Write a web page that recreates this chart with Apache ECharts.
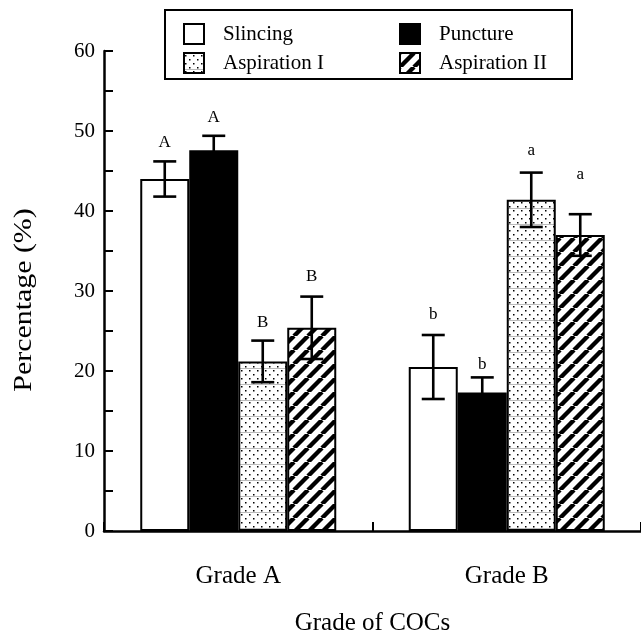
<!DOCTYPE html>
<html><head><meta charset="utf-8">
<script src="https://cdn.jsdelivr.net/npm/echarts@6/dist/echarts.min.js"></script>
<style>html,body{margin:0;padding:0;background:#fff}#c{width:641px;height:641px}</style>
</head><body><div id="c"></div>
<script>
const categories = ['Grade A', 'Grade B'];
const seriesNames = ['Slincing', 'Puncture', 'Aspiration I', 'Aspiration II'];
const slincing = [44.0, 20.5];
const puncture = [47.6, 17.3];
const aspirationI = [21.2, 41.4];
const aspirationII = [25.4, 37.0];
const slincingErr = [2.2, 4.0];
const punctureErr = [1.8, 1.9];
const aspirationIErr = [2.6, 3.4];
const aspirationIIErr = [3.9, 2.6];
const slincingLetters = ['A', 'b'];
const punctureLetters = ['A', 'b'];
const aspirationILetters = ['B', 'a'];
const aspirationIILetters = ['B', 'a'];
const slincingLetterY = [48.6, 27.0];
const punctureLetterY = [51.7, 20.8];
const aspirationILetterY = [26.0, 47.5];
const aspirationIILetterY = [31.8, 44.5];
const yTicks = [0, 10, 20, 30, 40, 50, 60];
const yTitle = 'Percentage (%)';
const xTitle = 'Grade of COCs';

const values = [slincing, puncture, aspirationI, aspirationII];
const errs = [slincingErr, punctureErr, aspirationIErr, aspirationIIErr];
const letters = [slincingLetters, punctureLetters, aspirationILetters, aspirationIILetters];
const letterY = [slincingLetterY, punctureLetterY, aspirationILetterY, aspirationIILetterY];

function dotPattern() {
  const c = document.createElement('canvas'); c.width = 8; c.height = 16;
  const g = c.getContext('2d');
  g.fillStyle = '#fff'; g.fillRect(0, 0, 8, 16);
  g.fillStyle = '#000';
  for (let r = 0; r < 4; r++) {
    const y = 2 + r * 4; const off = (r % 2) ? 4 : 0;
    g.fillRect(1 + off, y, 1.5, 1.5);
  }
  g.fillStyle = '#bbb'; g.fillRect(0, 0, 8, 1);
  return c;
}
function stripePattern() {
  const s = 14;
  const c = document.createElement('canvas'); c.width = s; c.height = s;
  const g = c.getContext('2d');
  g.fillStyle = '#fff'; g.fillRect(0, 0, s, s);
  g.strokeStyle = '#000'; g.lineWidth = 4.4;
  for (let k = -1; k <= 1; k++) {
    g.beginPath(); g.moveTo(k * s, s); g.lineTo(k * s + s, 0); g.stroke();
  }
  return c;
}
const fills = ['#fff', '#000', {image: dotPattern(), repeat: 'repeat'}, {image: stripePattern(), repeat: 'repeat'}];
const GAP = 0.27;
const font = 'Liberation Serif';

const series = seriesNames.map((n, i) => ({
  name: n, type: 'bar', data: values[i], barGap: '0%', barCategoryGap: (GAP * 100) + '%',
  itemStyle: {color: fills[i], borderColor: '#000', borderWidth: 2},
  emphasis: {disabled: true}, z: 2
}));

const errData = [];
for (let i = 0; i < 4; i++) for (let c = 0; c < categories.length; c++) {
  errData.push([c, i, values[i][c] - errs[i][c], values[i][c] + errs[i][c], letterY[i][c], letters[i][c]]);
}
series.push({
  type: 'custom', z: 5, silent: true,
  data: errData,
  renderItem: function (params, api) {
    const cat = api.value(0), si = api.value(1);
    const band = api.size([1, 0])[0];
    const bw = band * (1 - GAP) / 4;
    const cx = api.coord([cat, 0])[0] - 2 * bw + (si + 0.5) * bw;
    const yl = api.coord([cat, api.value(2)])[1];
    const yh = api.coord([cat, api.value(3)])[1];
    const yt = api.coord([cat, api.value(4)])[1];
    const cap = 11.5;
    const st = {stroke: '#000', lineWidth: 2.6};
    return {type: 'group', children: [
      {type: 'line', shape: {x1: cx, y1: yl, x2: cx, y2: yh}, style: st},
      {type: 'line', shape: {x1: cx - cap, y1: yh, x2: cx + cap, y2: yh}, style: st},
      {type: 'line', shape: {x1: cx - cap, y1: yl, x2: cx + cap, y2: yl}, style: st},
      {type: 'text', style: {x: cx, y: yt, text: errData[params.dataIndex][5], fill: '#000',
        font: '17px "' + font + '"', textAlign: 'center', textVerticalAlign: 'middle'}}
    ]};
  }
});

const legendPos = [[183, 33], [399, 33], [183, 62], [399, 62]];
const legends = seriesNames.map((n, i) => ({
  data: [n], left: legendPos[i][0], top: legendPos[i][1] - 10, padding: 0,
  itemWidth: 20, itemHeight: 20, itemGap: 0,
  textStyle: {fontFamily: font, fontSize: 21, color: '#000', padding: [0, 0, 0, 14]},
  icon: 'rect', selectedMode: false,
  itemStyle: {borderColor: '#000', borderWidth: 2}
}));

const chart = echarts.init(document.getElementById('c'));
chart.setOption({
  animation: false,
  backgroundColor: '#fff',
  grid: {left: 104, right: 0, top: 51, bottom: 99},
  legend: legends,
  graphic: [
    {type: 'rect', shape: {x: 165, y: 10, width: 407, height: 69}, style: {fill: 'none', stroke: '#000', lineWidth: 2}, z: 10},
    {type: 'text', x: 24, y: 300, rotation: Math.PI / 2, scaleX: 1.15,
      style: {text: yTitle, font: '26px "' + font + '"', fill: '#000', textAlign: 'center', textVerticalAlign: 'middle'}}
  ],
  xAxis: {
    type: 'category', data: categories,
    axisLine: {lineStyle: {color: '#000', width: 2.5}},
    axisTick: {show: true, inside: true, length: 9, lineStyle: {color: '#000', width: 2}},
    axisLabel: {color: '#000', fontFamily: font, fontSize: 25, margin: 33},
    name: xTitle, nameLocation: 'middle', nameGap: 80,
    nameTextStyle: {color: '#000', fontFamily: font, fontSize: 25}
  },
  yAxis: {
    type: 'value', min: yTicks[0], max: yTicks[yTicks.length - 1], interval: 10,
    axisLine: {show: true, lineStyle: {color: '#000', width: 2.5}},
    axisTick: {show: true, inside: true, length: 9, lineStyle: {color: '#000', width: 2}},
    minorTick: {show: true, splitNumber: 2, length: 9, lineStyle: {color: '#000', width: 2}},
    splitLine: {show: false},
    axisLabel: {color: '#000', fontFamily: font, fontSize: 21, margin: 9}
  },
  series: series
});
</script></body></html>
